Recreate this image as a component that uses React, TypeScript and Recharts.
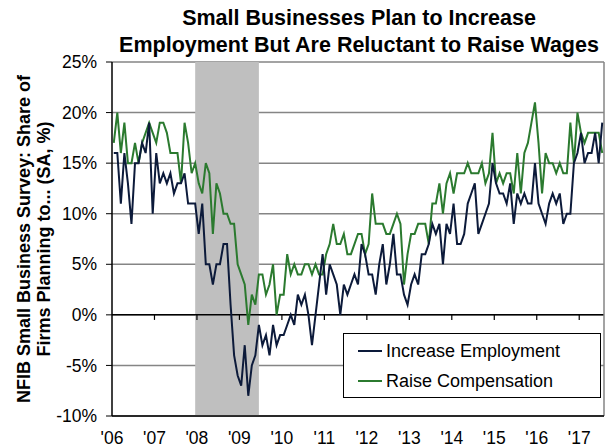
import {CartesianGrid, Line, LineChart, ReferenceArea, ReferenceLine, XAxis, YAxis} from "recharts";

// monthly, Jan 2006 - Jul 2017
const yearLabels = ["'06", "'07", "'08", "'09", "'10", "'11", "'12", "'13", "'14", "'15", "'16", "'17"];
const yTicks = [-10, -5, 0, 5, 10, 15, 20, 25];

const increaseEmployment = [
  16, 16, 11, 16, 13, 9, 15, 15, 17, 16, 19, 10,
  16, 13, 14, 13, 14, 12, 13, 13, 14, 11, 11, 11,
  8, 11, 5, 5, 3, 5, 5, 7, 7, 1, -4, -6,
  -7, -3, -8, -5, -4, -1, -3, -2, -4, -1, -3, -2,
  -2, -1, 0, -1, 2, 1, 2, 0, -3, 0, 3, 6,
  2, 5, 4, 3, 0, 3, 2, 3, 4, 3, 7, 6,
  4, 4, 2, 5, 7, 3, 5, 8, 4, 4, 2, 1,
  3, 4, 3, 6, 6, 7, 9, 8, 9, 5, 9, 8,
  11, 7, 7, 8, 11, 12, 13, 8, 9, 10, 11, 15,
  13, 12, 12, 11, 13, 9, 12, 11, 12, 11, 11, 15,
  11, 10, 9, 11, 12, 11, 12, 9, 10, 10, 15, 16,
  18, 15, 16, 16, 18, 15, 19,
];

const raiseCompensation = [
  17, 20, 16, 19, 15, 15, 17, 15, 17, 18, 19, 18,
  17, 19, 19, 18, 16, 16, 16, 13, 19, 17, 14, 15,
  13, 12, 15, 14, 8, 13, 12, 10, 10, 9, 9, 5,
  4, 3, -1, 2, 1, 4, 4, 2, 3, 5, 0, 2,
  2, 6, 4, 5, 4, 4, 5, 5, 4, 5, 4, 4,
  6, 7, 9, 7, 7, 8, 6, 6, 7, 8, 8, 6,
  7, 12, 9, 9, 9, 8, 8, 9, 10, 9, 3, 6,
  8, 8, 9, 9, 9, 7, 11, 11, 13, 10, 13, 14,
  12, 14, 14, 14, 15, 14, 14, 14, 15, 13, 14, 18,
  13, 14, 13, 14, 14, 12, 16, 12, 16, 17, 19, 21,
  17, 12, 16, 15, 15, 14, 15, 14, 14, 19, 15, 20,
  18, 17, 18, 18, 18, 18, 16,
];

// recession shading, in months from Jan 2006
const recessionStart = 23.5;
const recessionEnd = 41.5;

const NAVY = "#0c1a3a";
const GREEN = "#2b7a2f";
const FONT = "Arial, 'Liberation Sans', sans-serif";

const nMonths = increaseEmployment.length;
const yearTicks = yearLabels.map((_, i) => i * 12);

const data = increaseEmployment.map((v, i) => ({
  t: i + 0.5,
  employment: v,
  compensation: raiseCompensation[i],
}));

const legendItems = [
  {label: "Increase Employment", color: NAVY},
  {label: "Raise Compensation", color: GREEN},
];

export default function App() {
  return (
    <div style={{position: "absolute", left: 0, top: 0, width: 606, height: 447, background: "#fff", fontFamily: FONT}}>
      <div style={{
        position: "absolute", left: 112, top: 5, width: 494, textAlign: "center",
        fontWeight: "bold", fontSize: 21.5, lineHeight: "27px", color: "#000",
      }}>
        Small Businesses Plan to Increase<br/>Employment But Are Reluctant to Raise Wages
      </div>
      <div style={{
        position: "absolute", left: 34 - 200, top: 239 - 20, width: 400, height: 40,
        textAlign: "center", fontWeight: "bold", fontSize: 18, lineHeight: "20px",
        transform: "rotate(-90deg)", transformOrigin: "center", color: "#000",
      }}>
        NFIB Small Business Survey: Share of<br/>Firms Planning to... (SA, %)
      </div>
      <LineChart width={606} height={447} data={data} margin={{top: 62, right: 2, bottom: 6, left: 0}}>
        <CartesianGrid vertical={false} stroke="#858585" strokeWidth={1.5}/>
        <XAxis
          type="number"
          dataKey="t"
          domain={[0, nMonths]}
          ticks={yearTicks}
          tickFormatter={(v: number) => yearLabels[v / 12]}
          tickLine={false}
          tickSize={0}
          tickMargin={16}
          height={25}
          axisLine={{stroke: "#000", strokeWidth: 1.5}}
          tick={{fontSize: 17.5, fill: "#000", fontFamily: FONT}}
          interval={0}
        />
        <YAxis
          domain={[-10, 25]}
          ticks={yTicks}
          tickFormatter={(v: number) => `${v}%`}
          width={112}
          tickSize={6}
          tickMargin={9}
          axisLine={{stroke: "#000", strokeWidth: 1.5}}
          tickLine={{stroke: "#000"}}
          tick={{fontSize: 17.5, fill: "#000", fontFamily: FONT}}
          interval={0}
        />
        <ReferenceArea x1={recessionStart} x2={recessionEnd} y1={-10} y2={25} fill="#bfbfbf" fillOpacity={1} stroke="none"/>
        <ReferenceLine y={0} stroke="#000" strokeWidth={1.5}/>
        {yearTicks.slice(1).map(x => (
          <ReferenceLine key={x} segment={[{x, y: 0}, {x, y: -0.5}]} stroke="#000" strokeWidth={1.2}/>
        ))}
        <ReferenceLine x={nMonths} stroke="#858585" strokeWidth={1.5}/>
        <Line type="linear" dataKey="compensation" stroke={GREEN} strokeWidth={2} dot={false} isAnimationActive={false}/>
        <Line type="linear" dataKey="employment" stroke={NAVY} strokeWidth={2} dot={false} isAnimationActive={false}/>
      </LineChart>
      <div style={{
        position: "absolute", left: 343, top: 333, width: 256, height: 63,
        border: "1px solid #000", background: "#fff",
      }}>
        {legendItems.map((item, i) => (
          <div key={item.label} style={{position: "absolute", left: 14, top: 6 + i * 30, height: 22, display: "flex", alignItems: "center"}}>
            <div style={{width: 24, height: 2, background: item.color, marginRight: 4}}/>
            <span style={{fontSize: 18, color: "#000"}}>{item.label}</span>
          </div>
        ))}
      </div>
    </div>
  );
}
